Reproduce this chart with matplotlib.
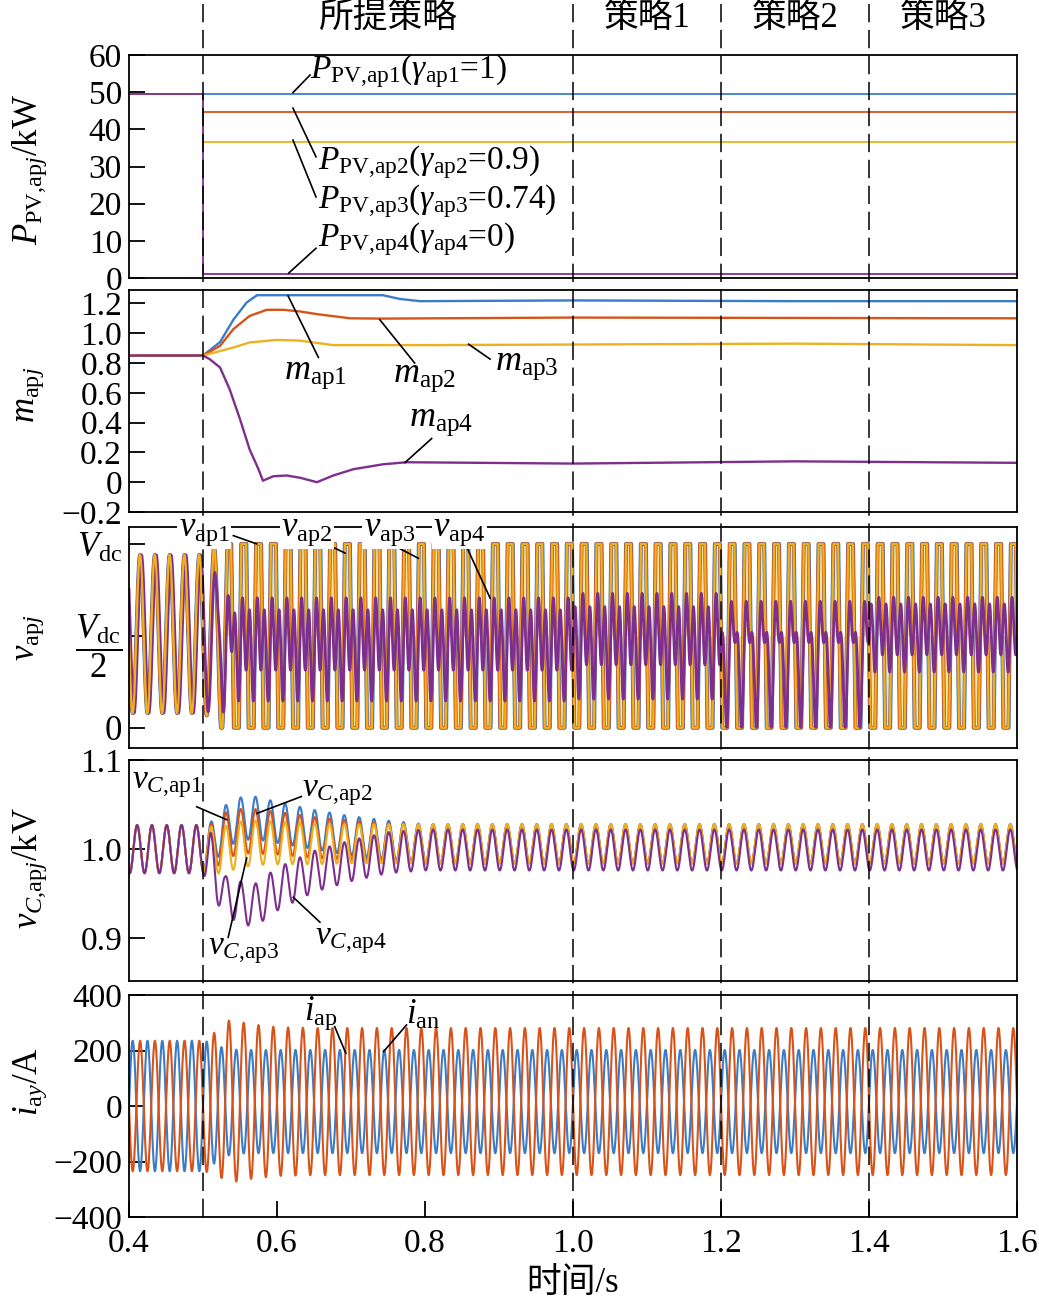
import numpy as np
import matplotlib
matplotlib.use('Agg')
import matplotlib.pyplot as plt
import matplotlib.transforms as mtransforms
from matplotlib.lines import Line2D

plt.rcParams['font.family'] = ['Liberation Serif', 'Noto Sans CJK SC']
plt.rcParams['mathtext.fontset'] = 'custom'
plt.rcParams['mathtext.rm'] = 'Liberation Serif'
plt.rcParams['mathtext.it'] = 'Liberation Serif:italic'
plt.rcParams['mathtext.bf'] = 'Liberation Serif:bold'

# colours (MATLAB style)
c_blue, c_orange, c_yellow, c_purple = '#3b7cc8', '#d95319', '#edb120', '#7e2f8e'

# ---------------- data ----------------
f_grid = 50.0
t_switch = 0.5
strategy_times = [0.5, 1.0, 1.2, 1.4]
strategy_names = ['所提策略', '策略1', '策略2', '策略3']
strategy_centers = [0.75, 1.1, 1.3, 1.5]

# PV power (kW) before / after 0.5 s
p_pre = 49.5
p_post = [49.5, 44.6, 36.7, 1.0]

# modulation index key points
m1_t = [0.4, 0.5, 0.523, 0.541, 0.559, 0.573, 0.743, 0.766, 0.793, 1.0, 1.3, 1.6]
m1_v = [0.85, 0.85, 0.94, 1.09, 1.206, 1.255, 1.255, 1.23, 1.215, 1.22, 1.215, 1.215]
m2_t = [0.4, 0.5, 0.523, 0.541, 0.563, 0.586, 0.609, 0.631, 0.654, 0.699, 0.743, 1.0, 1.6]
m2_v = [0.85, 0.85, 0.915, 1.027, 1.116, 1.157, 1.157, 1.146, 1.128, 1.10, 1.098, 1.105, 1.10]
m3_t = [0.4, 0.5, 0.541, 0.563, 0.6, 0.631, 0.676, 0.8, 1.3, 1.6]
m3_v = [0.85, 0.85, 0.904, 0.938, 0.955, 0.95, 0.92, 0.92, 0.93, 0.92]
m4_t = [0.4, 0.5, 0.509, 0.523, 0.536, 0.55, 0.563, 0.575, 0.581, 0.595, 0.613,
        0.631, 0.654, 0.676, 0.703, 0.743, 0.775, 1.0, 1.3, 1.6]
m4_v = [0.85, 0.85, 0.826, 0.77, 0.624, 0.423, 0.22, 0.087, 0.01, 0.04, 0.045,
        0.03, 0.0, 0.045, 0.087, 0.12, 0.134, 0.125, 0.14, 0.13]

# arm output voltage envelopes (per unit of Vdc)
v_t = [0.4, 0.5, 0.515, 0.53, 0.545, 1.0, 1.0, 1.2, 1.2, 1.4, 1.4, 1.6]
v_mean = [0.51, 0.51, 0.51, 0.5, 0.5, 0.5, 0.5, 0.5, 0.5, 0.5, 0.5, 0.5]
v1_amp = [0.43, 0.43, 0.47, 0.56, 1.25, 1.25, 1.25, 1.25, 1.15, 1.15, 1.25, 1.25]
v2_amp = [0.43, 0.43, 0.47, 0.56, 1.10, 1.10, 1.10, 1.10, 1.0, 1.0, 1.10, 1.10]
v3_amp = [0.43, 0.43, 0.47, 0.56, 0.95, 0.95, 0.95, 0.95, 0.9, 0.9, 0.95, 0.95]
v4_mean = [0.51, 0.51, 0.5, 0.46, 0.45, 0.45, 0.47, 0.47, 0.4, 0.4, 0.52, 0.52]
v4_a1 = [0.43, 0.43, 0.38, 0.25, 0.09, 0.09, 0.1, 0.1, 0.25, 0.25, 0.05, 0.05]
v4_a2 = [0.0, 0.0, 0.03, 0.14, 0.22, 0.22, 0.22, 0.22, 0.16, 0.16, 0.17, 0.17]

# capacitor voltage envelopes (kV)
vc_t = [0.4, 0.5, 0.51, 0.53, 0.55, 0.57, 0.6, 0.65, 0.7, 0.75, 0.8, 1.6]
vc1_mean = [1.0, 1.0, 1.005, 1.025, 1.034, 1.035, 1.03, 1.022, 1.015, 1.01, 1.006, 1.006]
vc1_amp = [0.027, 0.027, 0.025, 0.024, 0.024, 0.024, 0.023, 0.022, 0.022, 0.022, 0.022, 0.022]
vc2_mean = [1.0, 1.0, 1.0, 1.015, 1.02, 1.02, 1.018, 1.013, 1.01, 1.007, 1.006, 1.006]
vc2_amp = [0.027, 0.027, 0.027, 0.026, 0.025, 0.025, 0.024, 0.023, 0.022, 0.022, 0.022, 0.022]
vc3_mean = [1.0, 1.0, 0.998, 1.0, 1.005, 1.007, 1.007, 1.006, 1.006, 1.006, 1.006, 1.006]
vc3_amp = [0.027, 0.027, 0.027, 0.026, 0.026, 0.025, 0.024, 0.023, 0.022, 0.022, 0.022, 0.022]
vc4_mean = [1.0, 1.0, 0.985, 0.948, 0.94, 0.937, 0.955, 0.975, 0.987, 0.996, 0.999, 0.999]
vc4_amp = [0.027, 0.027, 0.035, 0.022, 0.024, 0.024, 0.024, 0.023, 0.023, 0.023, 0.023, 0.023]

# arm currents (A)
i_t = [0.4, 0.5, 0.51, 0.52, 0.535, 0.545, 0.56, 0.6, 0.65, 1.6]
ip_amp = [235, 235, 225, 205, 192, 188, 186, 186, 186, 186]
ip_mean = [0, 0, 5, 10, 14, 15, 16, 16, 16, 16]
in_amp = [235, 235, 245, 265, 290, 290, 280, 268, 265, 265]
in_mean = [0, 0, 5, 12, 18, 18, 16, 16, 16, 16]

# y-axis labels and their vertical centres (pixels from top)
ylabels = [r'$P_{{\rm PV{,}ap}j}/{\rm kW}$', r'$m_{{\rm ap}j}$', r'$v_{{\rm ap}j}$',
           r'$v_{C{,}{\rm ap}j}/{\rm kV}$', r'$i_{{\rm a}y}/{\rm A}$']
ylabel_y = [170, 395, 638, 868, 1082]

# ---------------- figure ----------------
fig = plt.figure(figsize=(10.39, 13.08), dpi=100)
L, W = 129 / 1039, 888 / 1039
boxes = [(55, 278), (290, 512), (527, 748), (760, 981), (995, 1217)]
axes = []
for top, bot in boxes:
    ax = fig.add_axes([L, 1 - bot / 1308, W, (bot - top) / 1308])
    ax.set_xlim(0.4, 1.6)
    for s in ax.spines.values():
        s.set_linewidth(1.3)
    ax.tick_params(axis='y', direction='in', length=11.5, width=1.3, labelsize=24, pad=5)
    ax.tick_params(axis='x', bottom=False, labelbottom=False)
    axes.append(ax)
ax1, ax2, ax3, ax4, ax5 = axes
for lab, yc in zip(ylabels, ylabel_y):
    fig.text(30 / 1039, 1 - yc / 1308, lab, rotation=90, ha='center', va='center', fontsize=25)

t = np.linspace(0.4, 1.6, 60001)
w = 2 * np.pi * f_grid

# panel 1: PV power
tp = [0.4, t_switch, t_switch, 1.6]
for val, c in zip(p_post, [c_blue, c_orange, c_yellow, c_purple]):
    ax1.plot(tp, [p_pre, p_pre, val, val], color=c, lw=1.3)
ax1.set_ylim(0, 60)
ax1.set_yticks(range(0, 61, 10))
tx = dict(fontsize=24, va='center', ha='left')
ax1.plot([0.6216, 0.6446], [49.9, 54.6], color='k', lw=1.2)
ax1.text(0.645, 55.8, r'$P_{\rm PV{,}ap1}$($\gamma_{\rm ap1}$=1)', **tx)
ax1.plot([0.6216, 0.6527], [45.7, 32.6], color='k', lw=1.2)
ax1.text(0.656, 31.2, r'$P_{\rm PV{,}ap2}$($\gamma_{\rm ap2}$=0.9)', **tx)
ax1.plot([0.6216, 0.6527], [37.1, 21.8], color='k', lw=1.2)
ax1.text(0.656, 20.6, r'$P_{\rm PV{,}ap3}$($\gamma_{\rm ap3}$=0.74)', **tx)
ax1.plot([0.616, 0.6527], [1.35, 8.0], color='k', lw=1.2)
ax1.text(0.656, 10.4, r'$P_{\rm PV{,}ap4}$($\gamma_{\rm ap4}$=0)', **tx)

# panel 2: modulation index
ax2.plot(m1_t, m1_v, color=c_blue, lw=1.7)
ax2.plot(m2_t, m2_v, color=c_orange, lw=1.7)
ax2.plot(m3_t, m3_v, color=c_yellow, lw=1.7)
ax2.plot(m4_t, m4_v, color=c_purple, lw=1.7)
ax2.set_ylim(-0.2, 1.29)
ax2.set_yticks([-0.2, 0, 0.2, 0.4, 0.6, 0.8, 1.0, 1.2])
ax2.set_yticklabels(['\u22120.2', '0', '0.2', '0.4', '0.6', '0.8', '1.0', '1.2'])
ax2.plot([0.615, 0.656], [1.25, 0.837], color='k', lw=1.2)
ax2.text(0.609, 0.72, r'$m_{\rm ap1}$', fontsize=26, va='center')
ax2.plot([0.739, 0.786], [1.09, 0.80], color='k', lw=1.2)
ax2.text(0.757, 0.70, r'$m_{\rm ap2}$', fontsize=26, va='center')
ax2.plot([0.859, 0.888], [0.926, 0.826], color='k', lw=1.2)
ax2.text(0.895, 0.78, r'$m_{\rm ap3}$', fontsize=26, va='center')
ax2.plot([0.773, 0.809], [0.132, 0.293], color='k', lw=1.2)
ax2.text(0.778, 0.41, r'$m_{\rm ap4}$', fontsize=26, va='center')

# panel 3: arm voltages
th = w * (t - 0.015)
vm = np.interp(t, v_t, v_mean)
v3 = np.clip(vm + np.interp(t, v_t, v3_amp) * np.cos(th), 0, 1)
ax3.fill_between(t, 0.5, v3, where=t > 0.53, color='#f8dfa2', lw=0)
for amp, c, lw in [(v1_amp, c_blue, 2.8), (v2_amp, c_orange, 2.3), (v3_amp, c_yellow, 1.6)]:
    ax3.plot(t, np.clip(vm + np.interp(t, v_t, amp) * np.cos(th), 0, 1), color=c, lw=lw)
v4 = (np.interp(t, v_t, v4_mean) + np.interp(t, v_t, v4_a1) * np.cos(th - 0.6)
      + np.interp(t, v_t, v4_a2) * np.cos(2 * th + 1.2))
ax3.plot(t, np.clip(v4, 0, 1), color=c_purple, lw=2.0)
pre = t <= t_switch
ax3.plot(t[pre], vm[pre] + 0.43 * np.cos(th[pre]), color=c_yellow, lw=1.5)
ax3.set_ylim(-0.11, 1.092)
ax3.set_yticks([0, 0.5, 1])
ax3.set_yticklabels(['0', r'$\dfrac{V_{\rm dc}}{2}$', r'$V_{\rm dc}$'])
ax3.tick_params(axis='y', labelsize=25)
bb = dict(facecolor='white', edgecolor='none', pad=1)
for x0, s in [(0.467, 'ap1'), (0.606, 'ap2'), (0.717, 'ap3'), (0.811, 'ap4')]:
    ax3.text(x0, 1.07, r'$v_{\rm %s}$' % s, fontsize=25, va='center', bbox=bb, zorder=5)
ax3.plot([0.541, 0.5725], [1.045, 1.0], color='k', lw=1.2)
ax3.plot([0.66, 0.692], [1.012, 0.95], color='k', lw=1.2)
ax3.plot([0.748, 0.791], [1.012, 0.922], color='k', lw=1.2)
ax3.plot([0.854, 0.888], [1.004, 0.705], color='k', lw=1.2)

# panel 4: capacitor voltages
thc = w * (t - 0.011)
for mn, amp, c in [(vc1_mean, vc1_amp, c_blue), (vc2_mean, vc2_amp, c_orange),
                   (vc3_mean, vc3_amp, c_yellow), (vc4_mean, vc4_amp, c_purple)]:
    ax4.plot(t, np.interp(t, vc_t, mn) + np.interp(t, vc_t, amp) * np.cos(thc), color=c, lw=1.5)
ax4.set_ylim(0.852, 1.1)
ax4.set_yticks([0.9, 1.0, 1.1])
ax4.set_yticklabels(['0.9', '1.0', '1.1'])
ax4.text(0.4036, 1.072, r'$v_{C{,}{\rm ap1}}$', fontsize=24, va='center')
ax4.plot([0.4915, 0.532], [1.0475, 1.033], color='k', lw=1.2)
ax4.text(0.634, 1.063, r'$v_{C{,}{\rm ap2}}$', fontsize=24, va='center')
ax4.plot([0.633, 0.5725], [1.059, 1.04], color='k', lw=1.2)
ax4.text(0.507, 0.886, r'$v_{C{,}{\rm ap3}}$', fontsize=24, va='center')
ax4.plot([0.534, 0.559], [0.901, 0.99], color='k', lw=1.2)
ax4.text(0.652, 0.897, r'$v_{C{,}{\rm ap4}}$', fontsize=24, va='center')
ax4.plot([0.658, 0.622], [0.918, 0.946], color='k', lw=1.2)

# panel 5: arm currents
thi = w * (t - 0.005)
ax5.plot(t, np.interp(t, i_t, ip_mean) + np.interp(t, i_t, ip_amp) * np.cos(thi), color=c_blue, lw=1.5)
ax5.plot(t, np.interp(t, i_t, in_mean) - np.interp(t, i_t, in_amp) * np.cos(thi), color=c_orange, lw=1.5)
ax5.set_ylim(-400, 400)
ax5.set_yticks([-400, -200, 0, 200, 400])
ax5.set_yticklabels(['\u2212400', '\u2212200', '0', '200', '400'])
ax5.text(0.636, 334, r'$i_{\rm ap}$', fontsize=25, va='center')
ax5.plot([0.678, 0.693], [286, 190], color='k', lw=1.2)
ax5.text(0.775, 328, r'$i_{\rm an}$', fontsize=25, va='center')
ax5.plot([0.775, 0.744], [292, 196], color='k', lw=1.2)
ax5.tick_params(axis='x', bottom=True, labelbottom=True, direction='in',
                length=11.5, width=1.3, labelsize=24, pad=8)
ax5.set_xticks([0.4, 0.6, 0.8, 1.0, 1.2, 1.4, 1.6])
ax5.set_xticklabels(['0.4', '0.6', '0.8', '1.0', '1.2', '1.4', '1.6'])

# dashed strategy boundaries through the whole figure
trans = mtransforms.blended_transform_factory(ax5.transData, fig.transFigure)
for xs in strategy_times:
    fig.lines.append(Line2D([xs, xs], [1 - 1217 / 1308, 1.0], transform=trans,
                            color='k', lw=1.1, dashes=(12, 5)))
for xc, name in zip(strategy_centers, strategy_names):
    fig.text(xc, 0.986, name, transform=trans, ha='center', va='center', fontsize=25)
fig.text(1.0, 0.019, '时间/s', transform=trans, ha='center', va='center', fontsize=25)

fig.savefig('out.png', dpi=100)
